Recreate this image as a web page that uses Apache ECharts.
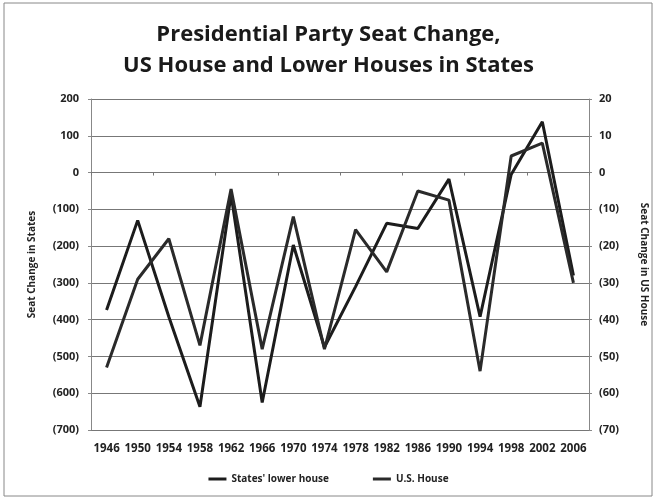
<!DOCTYPE html>
<html>
<head>
<meta charset="utf-8">
<script src="https://cdn.jsdelivr.net/npm/echarts@6/dist/echarts.min.js"></script>
<style>
html,body{margin:0;padding:0;background:#fff;}
#chart{width:657px;height:500px;}
</style>
</head>
<body>
<div id="chart"></div>
<script>
const years = ['1946','1950','1954','1958','1962','1966','1970','1974','1978','1982','1986','1990','1994','1998','2002','2006'];
const statesLowerHouse = [-374,-130,-392,-637,-60,-625,-197,-475,-310,-138,-152,-18,-392,-5,138,-280];
const usHouse = [-53,-29,-18,-47,-4.5,-48,-12,-48,-15.5,-27,-5,-7.5,-54,4.5,8,-30];
const leftTicks = {min:-700, max:200, interval:100};
const rightTicks = {min:-70, max:20, interval:10};

const fmt = v => v < 0 ? '(' + (-v) + ')' : String(v);
const FONT = 'Open Sans';
const chart = echarts.init(document.getElementById('chart'));
chart.setOption({
  animation:false,
  backgroundColor:'#fff',
  textStyle:{fontFamily:FONT},
  graphic:[{type:'rect',shape:{x:4,y:3,width:648,height:493},style:{fill:'none',stroke:'#888',lineWidth:1},silent:true}],
  title:{
    text:'Presidential Party Seat Change,\nUS House and Lower Houses in States',
    left:'center', top:14, padding:[5,0,5,14],
    textStyle:{fontFamily:FONT,fontWeight:'bold',fontSize:22,lineHeight:31,color:'#1a1a1a'}
  },
  legend:{
    bottom:11, left:'center', itemWidth:18, itemHeight:3, itemGap:44,
    icon:'rect',
    textStyle:{fontFamily:FONT,fontWeight:'bold',fontSize:10,color:'#222'},
    data:["States' lower house",'U.S. House']
  },
  grid:{left:91,right:68,top:99,bottom:70},
  xAxis:[{
    type:'category', data:years, boundaryGap:true,
    axisLine:{show:false}, axisTick:{show:false},
    axisLabel:{fontFamily:FONT,fontWeight:'bold',fontSize:11.5,color:'#222',margin:13,interval:0}
  },{
    type:'category', data:years, boundaryGap:true, position:'bottom',
    axisLine:{show:true,onZero:true,onZeroAxisIndex:0,lineStyle:{color:'#777',width:1}},
    axisTick:{show:true,length:3,lineStyle:{color:'#777'}},
    axisLabel:{show:false}, splitLine:{show:false}
  }],
  yAxis:[{
    type:'value', min:leftTicks.min, max:leftTicks.max, interval:leftTicks.interval,
    name:'Seat Change in States', nameLocation:'middle', nameGap:54, nameRotate:90,
    nameTextStyle:{fontFamily:FONT,fontWeight:'bold',fontSize:10,color:'#222'},
    axisLine:{show:true,lineStyle:{color:'#888'}},
    axisTick:{show:true,length:3,lineStyle:{color:'#888'}},
    axisLabel:{formatter:fmt,fontFamily:FONT,fontWeight:'bold',fontSize:11,color:'#222',margin:12},
    splitLine:{show:true,lineStyle:{color:'#777',width:1}}
  },{
    type:'value', min:rightTicks.min, max:rightTicks.max, interval:rightTicks.interval,
    name:'Seat Change in US House', nameLocation:'middle', nameGap:50, nameRotate:-90,
    nameTextStyle:{fontFamily:FONT,fontWeight:'bold',fontSize:10,color:'#222'},
    axisLine:{show:true,lineStyle:{color:'#888'}},
    axisTick:{show:true,length:3,lineStyle:{color:'#888'}},
    axisLabel:{formatter:fmt,fontFamily:FONT,fontWeight:'bold',fontSize:11,color:'#222',margin:10},
    splitLine:{show:false}
  }],
  series:[{
    name:"States' lower house", type:'line', data:statesLowerHouse, yAxisIndex:0,
    symbol:'none', lineStyle:{color:'#1c1c1c',width:3}, itemStyle:{color:'#1c1c1c'}
  },{
    name:'U.S. House', type:'line', data:usHouse, yAxisIndex:1,
    symbol:'none', lineStyle:{color:'#2a2a2a',width:3}, itemStyle:{color:'#2a2a2a'}
  }]
});
</script>
</body>
</html>
